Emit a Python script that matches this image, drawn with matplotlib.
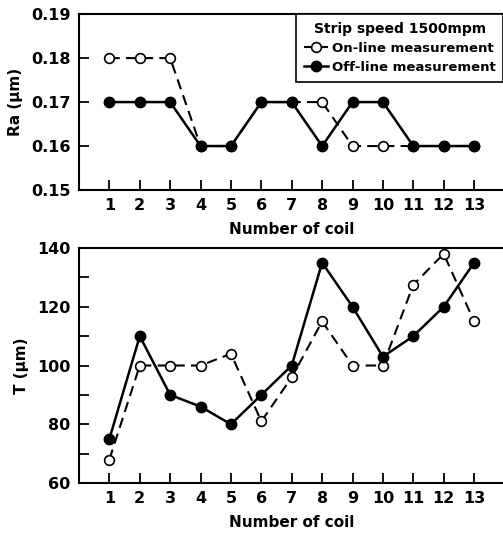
import matplotlib
matplotlib.use("Agg")
import matplotlib.pyplot as plt
import numpy as np

# coil numbers
coils = np.arange(1, 14)

# Ra (um), top panel
ra_online = [0.18, 0.18, 0.18, 0.16, 0.16, 0.17, 0.17, 0.17, 0.16, 0.16, 0.16, 0.16, 0.16]
ra_offline = [0.17, 0.17, 0.17, 0.16, 0.16, 0.17, 0.17, 0.16, 0.17, 0.17, 0.16, 0.16, 0.16]

# T (um), bottom panel
t_online = [68, 100, 100, 100, 104, 81, 96, 115, 100, 100, 127.5, 138, 115]
t_offline = [75, 110, 90, 86, 80, 90, 100, 135, 120, 103, 110, 120, 135]

plt.rcParams['font.family'] = ['DejaVu Sans']
plt.rcParams['font.weight'] = 'bold'

fig = plt.figure(figsize=(5.03, 5.33), dpi=100)
ax1 = fig.add_axes([0.157, 0.6435, 0.846, 0.330])
ax2 = fig.add_axes([0.157, 0.0938, 0.846, 0.4409])

on_style = dict(color='black', linestyle='--', linewidth=1.5, marker='o',
                markersize=7, markerfacecolor='white', markeredgecolor='black',
                markeredgewidth=1.2, dashes=(5, 3))
off_style = dict(color='black', linestyle='-', linewidth=1.8, marker='o',
                 markersize=7.5, markerfacecolor='black', markeredgecolor='black')

l1, = ax1.plot(coils, ra_online, label='On-line measurement', zorder=2, **on_style)
l2, = ax1.plot(coils, ra_offline, label='Off-line measurement', zorder=3, **off_style)
ax2.plot(coils, t_online, zorder=2, **on_style)
ax2.plot(coils, t_offline, zorder=3, **off_style)

for ax in (ax1, ax2):
    ax.set_xlim(0, 14)
    ax.set_xticks(coils)
    ax.spines['right'].set_visible(False)
    for s in ('left', 'bottom', 'top'):
        ax.spines[s].set_linewidth(1.5)
    ax.tick_params(direction='in', length=7, width=1.3, labelsize=11.5, pad=6)
    ax.set_xlabel('Number of coil', fontsize=11, fontweight='bold', labelpad=6)

ax1.set_ylim(0.15, 0.19)
ax1.set_yticks([0.15, 0.16, 0.17, 0.18, 0.19])
ax1.set_yticklabels(['0.15', '0.16', '0.17', '0.18', '0.19'])
ax1.set_ylabel('Ra (\u03bcm)', fontsize=11, fontweight='bold', labelpad=6)

ax2.set_ylim(60, 140)
ax2.set_yticks([60, 70, 80, 90, 100, 110, 120, 130, 140])
ax2.set_yticklabels(['60', '', '80', '', '100', '', '120', '', '140'])
ax2.set_ylabel('T (\u03bcm)', fontsize=11, fontweight='bold', labelpad=6)

leg = ax1.legend(handles=[l1, l2], title='Strip speed 1500mpm', loc='upper left',
                 bbox_to_anchor=(0.51, 1.0), borderaxespad=0, fancybox=False,
                 edgecolor='black', framealpha=1, fontsize=9.5, title_fontsize=10,
                 handlelength=1.8, handletextpad=0.3, borderpad=0.6, labelspacing=0.45)
leg.get_frame().set_linewidth(1.2)
leg.get_title().set_fontweight('bold')

fig.savefig('out.png', dpi=100)
